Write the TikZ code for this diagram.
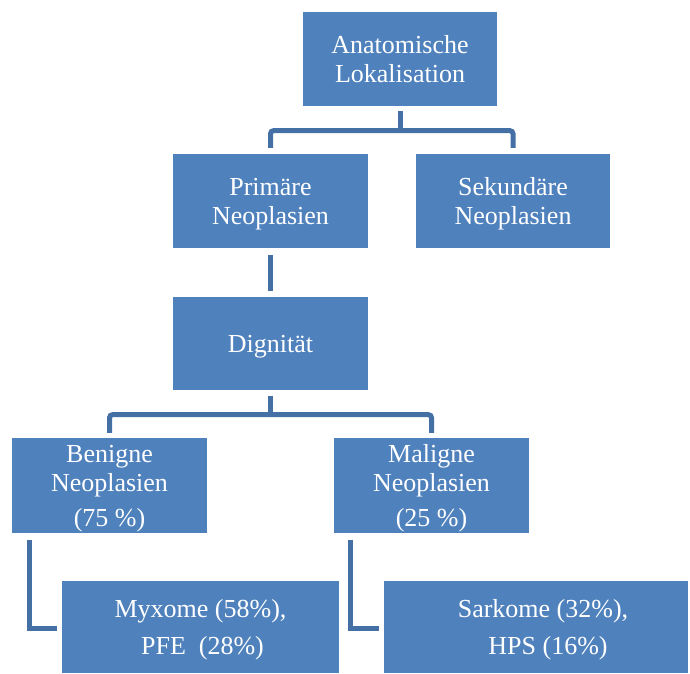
\documentclass[tikz,border=0pt]{standalone}
\usepackage{fontspec}
\setmainfont{Liberation Serif}
\usetikzlibrary{calc}
\definecolor{boxblue}{HTML}{4F81BD}
\definecolor{lineblue}{HTML}{4570A5}
\newcommand{\mytop}{\rule{0pt}{23.2pt}}
\newcommand{\mybot}{\rule[-5.6pt]{0pt}{5.6pt}}
\begin{document}
\begin{tikzpicture}[x=1pt,y=-1pt,
  box/.style={fill=boxblue, text=white, align=center, inner sep=0pt,
    font=\fontsize{26}{28.5}\selectfont},
  conn/.style={draw=lineblue, line width=5pt}]
\useasboundingbox (0,0) rectangle (690,673);
\node[box, minimum width=194pt, minimum height=94pt] (lok) at (400,59)
  {\mytop Anatomische\\Lokalisation\mybot};
\node[box, minimum width=195pt, minimum height=94pt] (prim) at (270.5,201)
  {\mytop Primäre\\Neoplasien\mybot};
\node[box, minimum width=194pt, minimum height=94pt] (sek) at (513,201)
  {\mytop Sekundäre\\Neoplasien\mybot};
\node[box, minimum width=195pt, minimum height=93pt] (dig) at (270.5,343.5)
  {\mytop Dignität\mybot};
\node[box, minimum width=195pt, minimum height=95pt] (ben) at (109.5,485.5)
  {\mytop Benigne\\Neoplasien\\[6.5pt](75 \%)\mybot};
\node[box, minimum width=195pt, minimum height=95pt] (mal) at (431.5,485.5)
  {\mytop Maligne\\Neoplasien\\[6.5pt](25 \%)\mybot};
\node[box, minimum width=277pt, minimum height=92pt] (myx) at (200.5,627)
  {\mytop Myxome (58\%),\\[8.5pt]\hspace*{4pt}PFE\ \ (28\%)\mybot};
\node[box, minimum width=304pt, minimum height=92pt] (sar) at (536,627)
  {\mytop\hspace*{14pt}Sarkome (32\%),\\[8.5pt]\hspace*{24pt}HPS (16\%)\mybot};
% connectors
\draw[conn] ($(lok.south)+(0,5)$) -- ($(lok.south)+(0,24.5)$);
\draw[conn, rounded corners=3pt] ($(prim.north)+(0,-6)$) |- ($(lok.south)+(0,24.5)$) -| ($(sek.north)+(0,-6)$);
\draw[conn] ($(prim.south)+(0,7)$) -- ($(dig.north)+(0,-6)$);
\draw[conn] ($(dig.south)+(0,6)$) -- ($(dig.south)+(0,24.5)$);
\draw[conn, rounded corners=3pt] ($(ben.north)+(0,-5)$) |- ($(dig.south)+(0,24.5)$) -| ($(mal.north)+(0,-5)$);
\draw[conn] ($(ben.south west)+(17.5,7)$) |- ($(myx.west)+(-5,1.5)$);
\draw[conn] ($(mal.south west)+(17,7)$) |- ($(sar.west)+(-5,1.5)$);
\end{tikzpicture}
\end{document}
